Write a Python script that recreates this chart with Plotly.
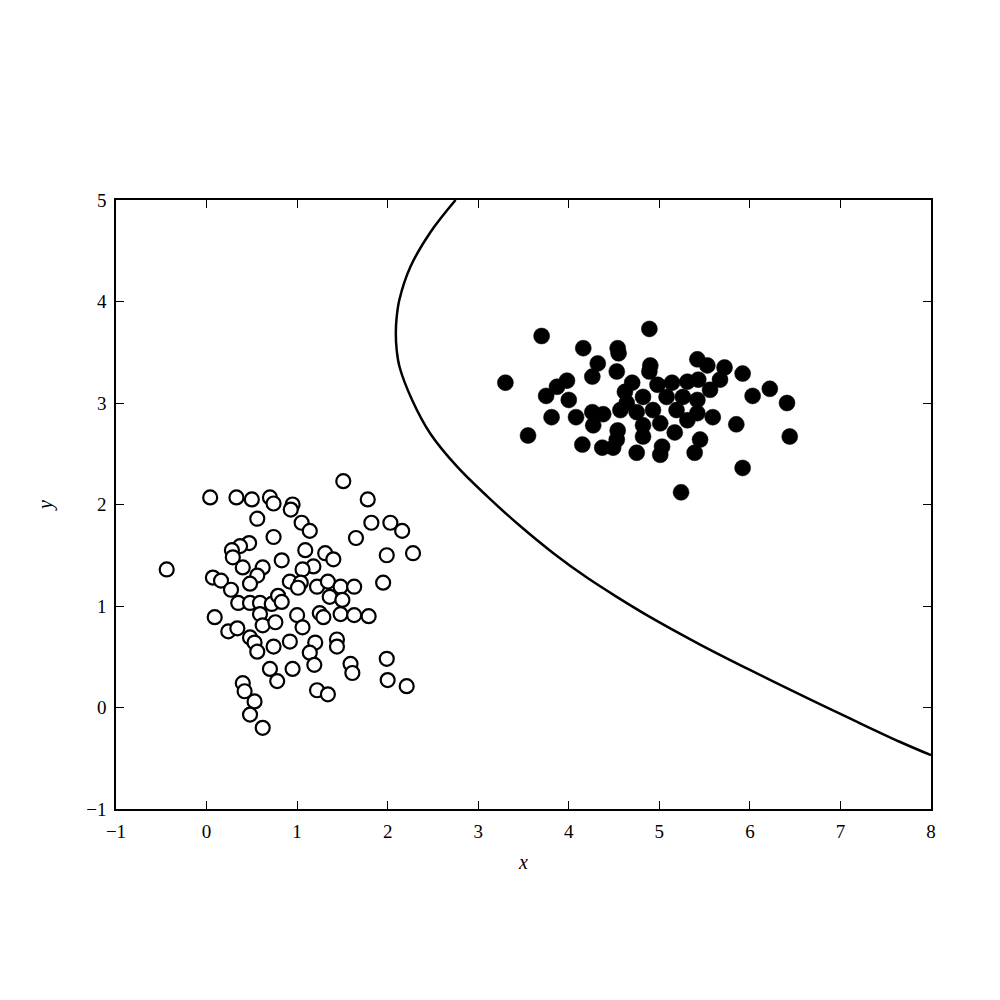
import plotly.graph_objects as go

# class 0 (open circles)
x0 = [0.04, 0.33, 0.50, 0.70, 0.74, 0.56, 0.74, 0.47, 0.37, 0.28, 0.29, 0.40, 0.62,
      0.56, 0.48, 0.83, -0.44, 0.07, 0.16, 0.27, 0.35, 0.48, 0.59, 0.72, 0.79, 0.83,
      0.92, 0.59, 0.09, 0.62, 0.76, 0.24, 0.34, 0.48, 0.53, 0.56, 0.74, 0.92, 0.70,
      0.78, 0.95, 0.40, 0.42, 0.53, 0.48, 0.62,
      1.51, 1.78, 0.95, 0.93, 1.05, 1.14, 1.82, 2.03, 2.16, 1.65, 1.09, 1.31, 1.40,
      1.18, 1.06, 1.99, 2.28, 1.04, 1.01, 1.22, 1.34, 1.48, 1.63, 1.95, 1.36, 1.50,
      1.00, 1.25, 1.29, 1.48, 1.63, 1.79, 1.06, 1.20, 1.14, 1.44, 1.44, 1.19, 1.59,
      1.61, 1.99, 2.00, 2.21, 1.22, 1.34]
y0 = [2.07, 2.07, 2.05, 2.07, 2.01, 1.86, 1.68, 1.62, 1.59, 1.55, 1.48, 1.38, 1.38,
      1.30, 1.22, 1.45, 1.36, 1.28, 1.25, 1.16, 1.03, 1.03, 1.03, 1.02, 1.10, 1.04,
      1.24, 0.92, 0.89, 0.81, 0.84, 0.75, 0.78, 0.69, 0.64, 0.55, 0.60, 0.65, 0.38,
      0.26, 0.38, 0.24, 0.16, 0.06, -0.07, -0.20,
      2.23, 2.05, 2.00, 1.95, 1.82, 1.74, 1.82, 1.82, 1.74, 1.67, 1.55, 1.52, 1.46,
      1.39, 1.36, 1.50, 1.52, 1.23, 1.18, 1.19, 1.24, 1.19, 1.19, 1.23, 1.09, 1.06,
      0.91, 0.93, 0.89, 0.92, 0.91, 0.90, 0.79, 0.64, 0.54, 0.67, 0.60, 0.42, 0.43,
      0.34, 0.48, 0.27, 0.21, 0.17, 0.13]

# class 1 (filled circles)
x1 = [3.70, 4.16, 4.54, 4.55, 4.32, 4.53, 4.26, 3.98, 3.87, 3.75, 4.00, 3.30, 3.81,
      4.08, 4.26, 4.38, 4.27, 3.55, 4.15, 4.37, 4.49, 4.54, 4.75, 4.90, 4.89, 4.70,
      4.62, 4.98, 5.14, 5.31, 5.43, 5.56, 5.67, 5.08, 5.26, 5.42, 4.82, 4.64, 4.57,
      4.75, 4.93, 5.19, 5.42, 5.59, 4.82, 5.01, 5.31, 5.17, 4.82, 4.53, 5.45, 5.03,
      4.89, 5.42, 5.53, 5.72, 5.92, 6.22, 6.03, 6.41, 5.85, 5.39, 5.01, 6.44, 5.92,
      5.24]
y1 = [3.66, 3.54, 3.54, 3.49, 3.39, 3.31, 3.26, 3.22, 3.16, 3.07, 3.03, 3.20, 2.86,
      2.86, 2.91, 2.89, 2.78, 2.68, 2.59, 2.56, 2.56, 2.73, 2.51, 3.37, 3.31, 3.20,
      3.11, 3.18, 3.20, 3.21, 3.23, 3.13, 3.23, 3.06, 3.06, 3.03, 3.06, 3.00, 2.93,
      2.91, 2.93, 2.93, 2.90, 2.86, 2.78, 2.80, 2.83, 2.71, 2.67, 2.64, 2.64, 2.57,
      3.73, 3.43, 3.37, 3.35, 3.29, 3.14, 3.07, 3.00, 2.79, 2.51, 2.49, 2.67, 2.36,
      2.12]

# decision boundary
bx = [2.75, 2.47, 2.25, 2.13, 2.10, 2.09, 2.10, 2.13, 2.27, 2.47, 2.77, 3.10, 3.46,
      3.83, 4.20, 4.53, 4.90, 5.45, 6.00, 6.55, 7.11, 7.66, 8.00]
by = [5.00, 4.68, 4.34, 4.02, 3.85, 3.69, 3.52, 3.36, 3.03, 2.70, 2.37, 2.08, 1.79,
      1.52, 1.28, 1.09, 0.89, 0.62, 0.37, 0.13, -0.11, -0.34, -0.47]

FONT = "Liberation Serif"

fig = go.Figure()
fig.add_trace(go.Scatter(x=bx, y=by, mode="lines", showlegend=False, hoverinfo="skip",
                         line=dict(color="black", width=2.5, shape="spline", smoothing=1)))
fig.add_trace(go.Scatter(x=x0, y=y0, mode="markers", showlegend=False,
                         marker=dict(size=14, color="white", line=dict(color="black", width=2.2))))
fig.add_trace(go.Scatter(x=x1, y=y1, mode="markers", showlegend=False,
                         marker=dict(size=16, color="black", line=dict(color="black", width=0.5))))

axis = dict(showgrid=False, zeroline=False, showline=True, linecolor="black", linewidth=1.5,
            mirror="allticks", ticks="inside", ticklen=8, tickwidth=1, tickcolor="black",
            tickfont=dict(family=FONT, size=19, color="black"), dtick=1, automargin=False)
fig.update_xaxes(**axis, range=[-1, 8], tick0=-1, ticklabelstandoff=4,
                 title=dict(text="<i>x</i>", font=dict(family=FONT, size=20, color="black"), standoff=14))
fig.update_yaxes(**axis, range=[-1, 5], tick0=-1, ticklabelstandoff=4,
                 title=dict(text="<i>y</i>", font=dict(family=FONT, size=20, color="black"), standoff=28))
# page body adds an 8px offset, so margins are shifted to keep the plot frame in place
fig.update_layout(width=1000, height=1000, plot_bgcolor="white", paper_bgcolor="white",
                  margin=dict(l=108, r=77, t=192, b=199))
fig.write_html("out.html")
